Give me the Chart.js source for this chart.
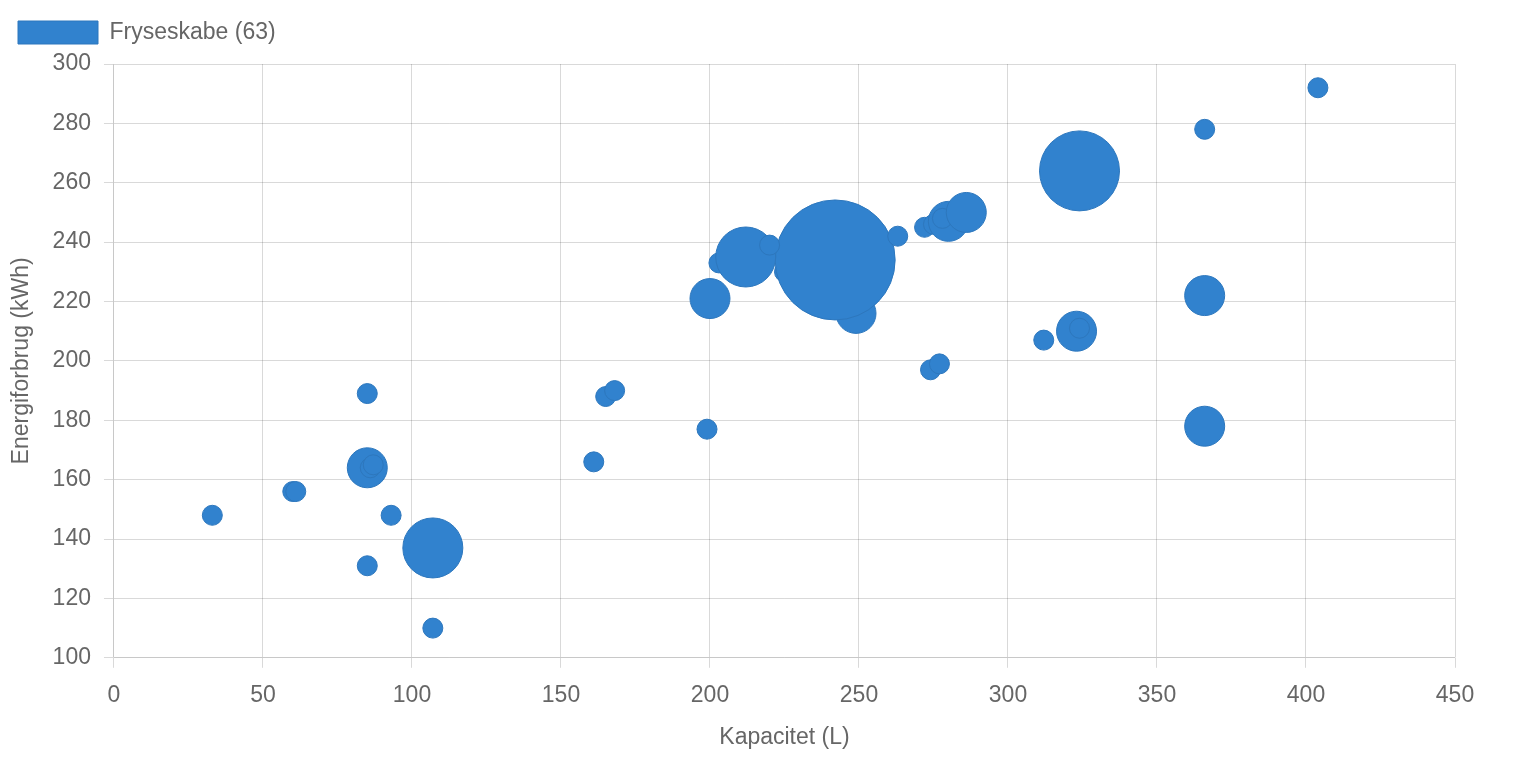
<!DOCTYPE html>
<html>
<head>
<meta charset="utf-8">
<title>Fryseskabe</title>
<script src="https://cdn.jsdelivr.net/npm/chart.js@4.4.0/dist/chart.umd.min.js"></script>
<style>
  html, body { margin: 0; padding: 0; background: #fff; }
  #wrap { width: 1518px; height: 758px; }
</style>
</head>
<body>
<div id="wrap"><canvas id="chart-frys"></canvas></div>
<script>
// kapacitet (L), energiforbrug (kWh) og antal modeller pr. punkt
var kapacitet = [203, 225, 249, 242, 212, 220, 200, 263, 272, 275, 280, 278, 286, 324, 366, 404,
  274, 277, 312, 323, 324, 366, 366, 199, 165, 168, 161, 85, 85, 86, 87, 93, 85, 107, 107, 33, 60, 61];
var energiforbrug = [233, 230, 216, 234, 235, 239, 221, 242, 245, 246, 247, 248, 250, 264, 278, 292,
  197, 199, 207, 210, 211, 222, 178, 177, 188, 190, 166, 189, 164, 164, 165, 148, 131, 137, 110, 148, 156, 156];
var antal = [1, 1, 2, 6, 3, 1, 2, 1, 1, 1, 2, 1, 2, 4, 1, 1,
  1, 1, 1, 2, 1, 2, 2, 1, 1, 1, 1, 1, 2, 1, 1, 1, 1, 3, 1, 1, 1, 1];

var xTicks = [0, 50, 100, 150, 200, 250, 300, 350, 400, 450];
var yTicks = [100, 120, 140, 160, 180, 200, 220, 240, 260, 280, 300];

var serieNavn = "Fryseskabe (63)";
var xTitel = "Kapacitet (L)";
var yTitel = "Energiforbrug (kWh)";

function montarPontos() {
  var pontos = [];
  for (var i = 0; i < kapacitet.length; i++) {
    pontos.push({ x: kapacitet[i], y: energiforbrug[i], r: antal[i] * 10 });
  }
  return pontos;
}

// lidt ekstra luft under legenden
var legendaEspaco = {
  id: "legendaEspaco",
  beforeInit: function (chart) {
    var fitOriginal = chart.legend.fit;
    chart.legend.fit = function () {
      fitOriginal.bind(chart.legend)();
      this.height += 10;
    };
  },
};

function criarGrafico() {
  Chart.defaults.font.family = "'Liberation Sans', 'Helvetica Neue', Arial, sans-serif";
  Chart.defaults.font.size = 23;
  Chart.defaults.color = "#666";

  var ctx = document.getElementById("chart-frys").getContext("2d");

  new Chart(ctx, {
    type: "bubble",
    data: {
      datasets: [
        {
          label: serieNavn,
          data: montarPontos(),
          backgroundColor: "#3182ce",
          borderColor: "#2d77bd",
          borderWidth: 1,
        },
      ],
    },
    plugins: [legendaEspaco],
    options: {
      responsive: true,
      maintainAspectRatio: false,
      animation: false,
      layout: {
        padding: { left: 8, right: 63, top: 11, bottom: 7 },
      },
      plugins: {
        legend: {
          align: "start",
          labels: {
            boxWidth: 80,
            boxHeight: 23,
            padding: 10,
            color: "#666",
          },
        },
        tooltip: { enabled: false },
      },
      scales: {
        x: {
          type: "linear",
          min: xTicks[0],
          max: xTicks[xTicks.length - 1],
          afterBuildTicks: function (axis) {
            axis.ticks = xTicks.map(function (v) { return { value: v }; });
          },
          grid: {
            color: "rgba(0, 0, 0, 0.15)",
            tickLength: 10,
          },
          border: { color: "rgba(0, 0, 0, 0.08)" },
          ticks: { padding: 14, color: "#666" },
          title: {
            display: true,
            text: xTitel,
            color: "#666",
            padding: { top: 0, bottom: 0 },
          },
        },
        y: {
          type: "linear",
          min: yTicks[0],
          max: yTicks[yTicks.length - 1],
          afterBuildTicks: function (axis) {
            axis.ticks = yTicks.map(function (v) { return { value: v }; });
          },
          grid: {
            color: "rgba(0, 0, 0, 0.15)",
            tickLength: 10,
          },
          border: { color: "rgba(0, 0, 0, 0.08)" },
          ticks: { padding: 13, color: "#666" },
          title: {
            display: true,
            text: yTitel,
            color: "#666",
            padding: { top: 0, bottom: 4 },
          },
        },
      },
    },
  });
}

criarGrafico();
</script>
</body>
</html>
